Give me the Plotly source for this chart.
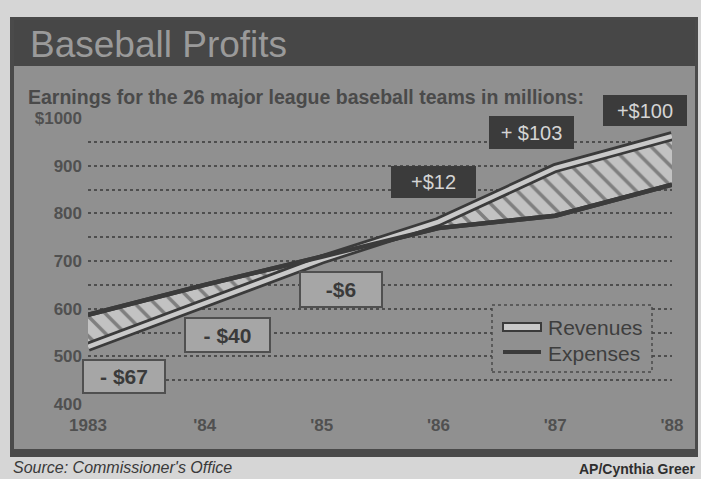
import plotly.graph_objects as go

# ---- data ($ millions) ----
years = [1983, 1984, 1985, 1986, 1987, 1988]
year_labels = ["1983", "'84", "'85", "'86", "'87", "'88"]
revenues = [520, 612, 703, 782, 895, 962]
expenses = [587, 650, 709, 769, 795, 860]
profit_labels = ["- $67", "- $40", "-$6", "+$12", "+ $103", "+$100"]
y_ticks = [400, 450, 500, 550, 600, 650, 700, 750, 800, 850, 900, 950, 1000]
y_ticktext = ["400", "", "500", "", "600", "", "700", "", "800", "", "900", "", "$1000"]

W, H = 701, 479
L, R, T, B = 88, 672, 118, 404  # plot-area pixel edges


def px(x):
    return (x - L) / (R - L)


def py(y):
    return (B - y) / (B - T)


PAPER = "#d6d6d6"
PANEL = "#909090"
DARK = "#3b3b3b"
LIGHT = "#c9c9c9"
FONT = "Liberation Sans, Arial, sans-serif"

fig = go.Figure()

# expenses (first, so revenues can fill to it)
fig.add_trace(go.Scatter(x=years, y=expenses, mode="lines",
                         line=dict(color=DARK, width=4.5), cliponaxis=False,
                         showlegend=False, hoverinfo="skip"))
# revenues outline + hatched fill between the two series
fig.add_trace(go.Scatter(x=years, y=revenues, mode="lines", fill="tonexty",
                         fillpattern=dict(shape="\\", fgcolor=DARK, bgcolor="#c2c2c2",
                                          size=14, solidity=0.25),
                         line=dict(color=DARK, width=10), cliponaxis=False,
                         showlegend=False, hoverinfo="skip"))
# revenues inner light ribbon
fig.add_trace(go.Scatter(x=years, y=revenues, mode="lines",
                         line=dict(color=LIGHT, width=4.5), cliponaxis=False,
                         showlegend=False, hoverinfo="skip"))
# expenses again on top of the fill
fig.add_trace(go.Scatter(x=years, y=expenses, mode="lines",
                         line=dict(color=DARK, width=4.5), cliponaxis=False,
                         showlegend=False, hoverinfo="skip"))

shapes = []
# outer frame / panel
shapes.append(dict(type="rect", xref="paper", yref="paper", layer="below",
                   x0=px(10), x1=px(698), y0=py(457), y1=py(17),
                   fillcolor="#4a4a4a", line=dict(width=0)))
shapes.append(dict(type="rect", xref="paper", yref="paper", layer="below",
                   x0=px(14), x1=px(695), y0=py(449), y1=py(66),
                   fillcolor=PANEL, line=dict(width=0)))
# title bar
shapes.append(dict(type="rect", xref="paper", yref="paper", layer="below",
                   x0=px(14), x1=px(695), y0=py(66), y1=py(20),
                   fillcolor="#474747", line=dict(width=0)))

# legend box
shapes.append(dict(type="rect", xref="paper", yref="paper", layer="above",
                   x0=px(492), x1=px(652), y0=py(372), y1=py(305),
                   fillcolor=PANEL, line=dict(color="#4a4a4a", width=1.5, dash="dot")))
shapes.append(dict(type="rect", xref="paper", yref="paper", layer="above",
                   x0=px(503), x1=px(541), y0=py(331), y1=py(323),
                   fillcolor=LIGHT, line=dict(color=DARK, width=2)))
shapes.append(dict(type="line", xref="paper", yref="paper", layer="above",
                   x0=px(503), x1=px(541), y0=py(352), y1=py(352),
                   line=dict(color=DARK, width=4)))

annotations = []
annotations.append(dict(text="Baseball Profits", xref="paper", yref="paper",
                        x=px(28), y=py(44), xanchor="left", yanchor="middle",
                        showarrow=False,
                        font=dict(family=FONT, size=37, color="#9a9a9a")))
annotations.append(dict(text="Earnings for the 26 major league baseball teams in millions:",
                        xref="paper", yref="paper", x=px(26), y=py(97),
                        xanchor="left", yanchor="middle", showarrow=False,
                        font=dict(family=FONT, size=19.5, color="#4a4a4a", weight="bold")))
annotations.append(dict(text="Revenues", xref="paper", yref="paper",
                        x=px(546), y=py(327), xanchor="left", yanchor="middle",
                        showarrow=False, font=dict(family=FONT, size=21, color="#3e3e3e")))
annotations.append(dict(text="Expenses", xref="paper", yref="paper",
                        x=px(546), y=py(353), xanchor="left", yanchor="middle",
                        showarrow=False, font=dict(family=FONT, size=21, color="#3e3e3e")))
annotations.append(dict(text="Source: Commissioner's Office", xref="paper", yref="paper",
                        x=px(11), y=py(467), xanchor="left", yanchor="middle",
                        showarrow=False,
                        font=dict(family=FONT, size=16, color="#3a3a3a", style="italic")))
annotations.append(dict(text="AP/Cynthia Greer", xref="paper", yref="paper",
                        x=px(697), y=py(469), xanchor="right", yanchor="middle",
                        showarrow=False,
                        font=dict(family=FONT, size=14, color="#2e2e2e", weight="bold")))

# profit label boxes (pixel centre, width, height)
box_geom = [(124, 376, 82, 33), (227, 335, 85, 34), (341, 289, 82, 35),
            (433, 182, 87, 34), (531, 132, 87, 35), (645, 110, 86, 33)]
for lbl, (cx, cy, w, h) in zip(profit_labels, box_geom):
    loss = lbl.startswith("-")
    annotations.append(dict(
        text=lbl, xref="paper", yref="paper", x=px(cx), y=py(cy),
        xanchor="center", yanchor="middle", showarrow=False,
        width=w - 2, height=h - 2, borderpad=0,
        bgcolor="#a6a6a6" if loss else DARK,
        bordercolor="#505050" if loss else DARK, borderwidth=2 if loss else 0,
        font=dict(family=FONT, size=21 if loss else 20,
                  color="#3a3a3a" if loss else "#d4d4d4",
                  weight="bold" if loss else "normal")))

fig.update_layout(
    width=W, height=H, autosize=False,
    margin=dict(l=L, r=W - R, t=T, b=H - B, pad=0),
    paper_bgcolor=PAPER, plot_bgcolor="rgba(0,0,0,0)",
    shapes=shapes, annotations=annotations, showlegend=False,
    xaxis=dict(range=[years[0], years[-1]], tickvals=years, ticktext=year_labels,
               showgrid=False, zeroline=False, showline=False, ticks="",
               ticklabelstandoff=9, fixedrange=True,
               tickfont=dict(family=FONT, size=17, color="#505050", weight="bold")),
    yaxis=dict(range=[400, 1000], tickvals=y_ticks, ticktext=y_ticktext,
               showgrid=True, gridcolor="#4e4e4e", gridwidth=1.5, griddash="dot",
               zeroline=False, showline=False, ticks="", ticklabelstandoff=5,
               fixedrange=True,
               tickfont=dict(family=FONT, size=17, color="#505050", weight="bold")),
)

fig.write_html("out.html", config={"displayModeBar": False},
               post_script="document.body.style.margin='0';"
                           "document.body.style.overflow='hidden';")
